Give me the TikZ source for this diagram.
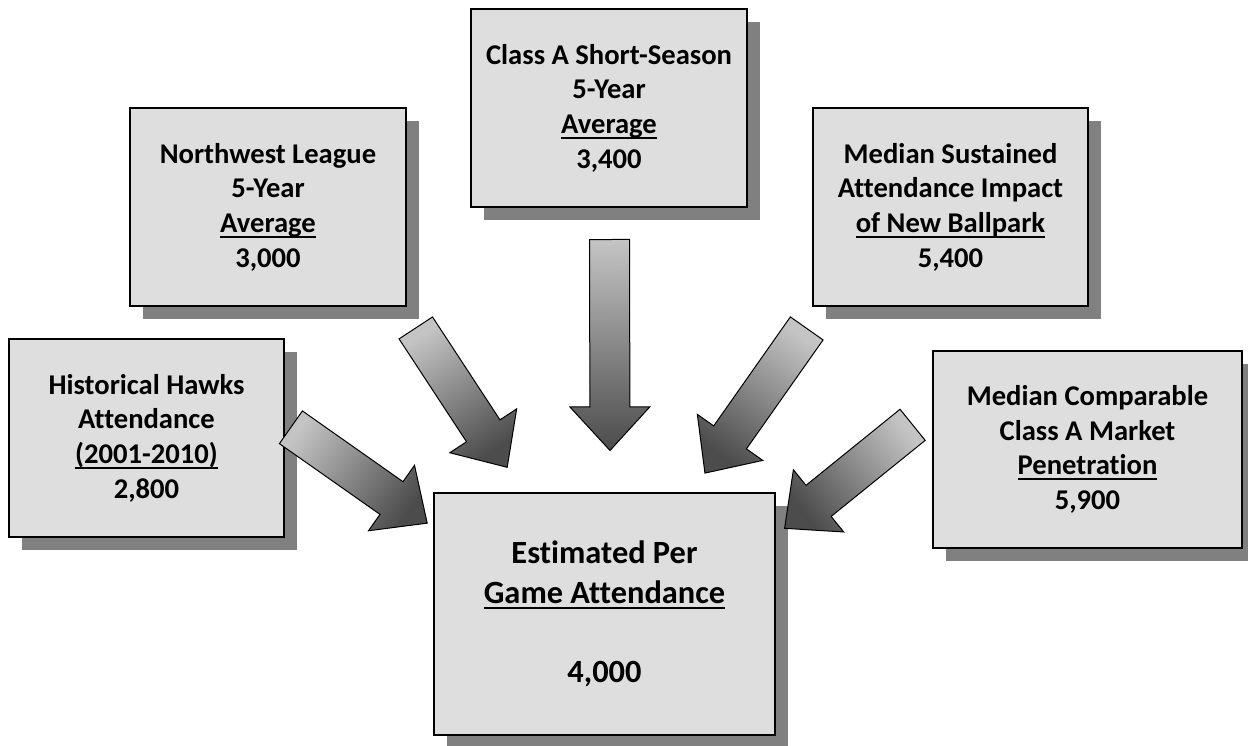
\documentclass[tikz,border=0pt]{standalone}
\usepackage{fontspec}
\setmainfont{Carlito}[Ligatures=NoCommon]
\usetikzlibrary{shapes.arrows,shadows,calc}
\definecolor{boxgray}{HTML}{DEDEDE}
\definecolor{shadowgray}{HTML}{808080}
\definecolor{arrowlight}{HTML}{C4C4C4}
\definecolor{arrowdark}{HTML}{4C4C4C}

% thick underline
\newcommand{\ulbox}[1]{\setbox0\hbox{#1}\leavevmode\rlap{\vrule height -1.7pt depth 2.7pt width \wd0}\box0}

% block arrow from a tail coordinate to a tip coordinate
\newcommand{\fatarrow}[3]{%
  \path let \p1=($(#3)-(#2)$), \n1={atan2(\y1,\x1)}, \n2={veclen(\x1,\y1)}, \n3={\n1+90} in
    node[blockarrow, anchor=tail, rotate=\n1, minimum height=\n2, shading angle=\n3] (#1) at (#2) {};
}

\begin{document}
\begin{tikzpicture}[x=0.5pt, y=-0.5pt,
    infobox/.style={draw=black, line width=0.8pt, fill=boxgray, align=center, inner sep=0pt,
      font=\bfseries\fontsize{14.3}{17.3}\selectfont,
      drop shadow={shadow xshift=6.25pt, shadow yshift=-6.25pt, fill=shadowgray, opacity=1}},
    blockarrow/.style={single arrow, draw=black, line width=0.5pt, inner sep=0pt, inner ysep=9.75pt,
      minimum width=0pt, single arrow head extend=10pt, single arrow tip angle=85,
      top color=arrowlight, bottom color=arrowdark}]
\useasboundingbox (0,0) rectangle (1248,745);

\node[infobox, minimum width=137.5pt, minimum height=99pt] (hawks) at (146.5,438)
  {Historical Hawks\\Attendance\\\ulbox{(2001-2010)}\\2,800};
\node[infobox, minimum width=138pt, minimum height=99pt] (league) at (268,207)
  {Northwest League\\5-Year\\\ulbox{Average}\\3,000};
\node[infobox, minimum width=138pt, minimum height=99pt] (shortseason) at (609,108)
  {Class A Short-Season\\5-Year\\\ulbox{Average}\\3,400};
\node[infobox, minimum width=137.5pt, minimum height=99pt] (ballpark) at (950.5,207)
  {Median Sustained\\Attendance Impact\\\ulbox{of New Ballpark}\\5,400};
\node[infobox, minimum width=154.5pt, minimum height=98.5pt] (market) at (1087.5,449.5)
  {Median Comparable\\Class A Market\\\ulbox{Penetration}\\5,900};
\node[infobox, minimum width=170.5pt, minimum height=121pt, font=\bfseries\fontsize{16.2}{19.8}\selectfont] (estimate) at (604.5,614)
  {Estimated Per\\\ulbox{Game Attendance}\\[19.8pt]4,000};

% arrows into the estimate
\coordinate (hawks-t) at (290.5,427);
\coordinate (hawks-h) at (427,523);
\coordinate (league-t) at (415.5,327.5);
\coordinate (league-h) at (507,467);
\coordinate (shortseason-t) at (609.5,239);
\coordinate (shortseason-h) at (610,450);
\coordinate (ballpark-t) at (807,328);
\coordinate (ballpark-h) at (705,473);
\coordinate (market-t) at (913,424.5);
\coordinate (market-h) at (785,528);

\fatarrow{arr1}{hawks-t}{hawks-h}
\fatarrow{arr2}{league-t}{league-h}
\fatarrow{arr3}{shortseason-t}{shortseason-h}
\fatarrow{arr4}{ballpark-t}{ballpark-h}
\fatarrow{arr5}{market-t}{market-h}
\end{tikzpicture}
\end{document}
